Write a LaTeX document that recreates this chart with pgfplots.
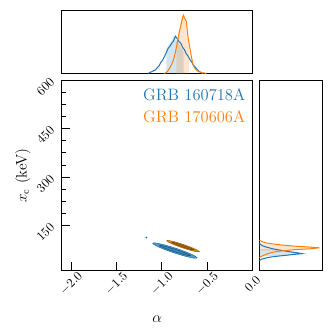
\documentclass[border=0pt]{standalone}
\usepackage{pgfplots}
\pgfplotsset{compat=1.18}
\definecolor{c0}{HTML}{1F77B4}
\definecolor{c1}{HTML}{FF7F0E}
\definecolor{cgold}{RGB}{200,140,25}
\begin{document}
\begin{tikzpicture}
\path[use as bounding box] (-48.8pt,-51.4pt) rectangle (213.5pt,213.2pt);
% main panel: alpha vs x_c
\begin{axis}[
    name=main,
    at={(0,0)}, anchor=south west,
    scale only axis, width=150pt, height=150pt,
    xmin=-2.1, xmax=0, ymin=10, ymax=600,
    xtick={-2,-1.5,-1,-0.5,0},
    xticklabels={$-2.0$,$-1.5$,$-1.0$,$-0.5$,$0.0$},
    ytick={150,300,450,600},
    minor y tick num=3,
    tick pos=left,
    major tick length=6.5pt, minor tick length=3.5pt,
    every tick/.style={black, line width=0.7pt},
    axis line style={black, line width=0.8pt},
    xticklabel style={rotate=45, anchor=center},
    xticklabel shift=10pt,
    yticklabel style={yshift=-5pt, rotate=45, anchor=center},
    yticklabel shift=13pt,
    xlabel={$\alpha$},
    ylabel={$x_{\mathrm{c}}$ (keV)},
    label style={font=\large},
    xlabel style={at={(axis description cs:0.5,-0.253)}, anchor=center},
    ylabel style={at={(axis description cs:-0.206,0.5)}, anchor=center},
]
% GRB 160718A contours
\addplot[draw=c0!90!black, line width=0.4pt, fill=c0!75!white, smooth] coordinates {
(-0.610,50.0) (-0.643,57.0) (-0.733,68.2) (-0.855,80.5) (-0.978,90.7) (-1.067,96.0)
(-1.100,95.0) (-1.067,88.0) (-0.978,76.9) (-0.855,64.5) (-0.733,54.4) (-0.643,49.0) (-0.610,50.0)
} -- cycle;
\addplot[draw=c0!70!black, line width=0.4pt, fill=c0!90!white, smooth] coordinates {
(-0.685,57.0) (-0.708,61.1) (-0.770,68.2) (-0.855,76.5) (-0.940,83.7) (-1.002,87.9)
(-1.025,88.0) (-1.002,83.9) (-0.940,76.8) (-0.855,68.5) (-0.770,61.3) (-0.708,57.1) (-0.685,57.0)
} -- cycle;
\addplot[only marks, mark=*, mark size=0.5pt, c0] coordinates {(-1.17,113)};
% GRB 170606A contours
\addplot[draw=c1!70!black, line width=0.4pt, fill=cgold, smooth] coordinates {
(-0.585,69.0) (-0.609,74.0) (-0.675,82.3) (-0.765,91.5) (-0.855,99.3) (-0.921,103.5)
(-0.945,103.0) (-0.921,98.0) (-0.855,89.7) (-0.765,80.5) (-0.675,72.7) (-0.609,68.5) (-0.585,69.0)
} -- cycle;
\addplot[draw=c1!50!black, line width=0.4pt, fill=cgold!80!black, smooth] coordinates {
(-0.645,74.5) (-0.661,77.4) (-0.705,82.7) (-0.765,88.8) (-0.825,94.2) (-0.869,97.4)
(-0.885,97.5) (-0.869,94.6) (-0.825,89.3) (-0.765,83.2) (-0.705,77.9) (-0.661,74.6) (-0.645,74.5)
} -- cycle;
\node[anchor=north east, inner sep=0pt, text=c0, font=\fontsize{13}{16}\selectfont]
  at (rel axis cs:0.963,0.956) {GRB 160718A};
\node[anchor=north east, inner sep=0pt, text=c1, font=\fontsize{13}{16}\selectfont]
  at (rel axis cs:0.963,0.843) {GRB 170606A};
\end{axis}
% top marginal: alpha
\begin{axis}[
    at={(0,155.3pt)}, anchor=south west,
    scale only axis, width=150pt, height=50pt,
    xmin=-2.1, xmax=0, ymin=0, ymax=1.09,
    ticks=none,
    axis line style={black, line width=0.8pt},
]
\addplot[draw=none, fill=c0, fill opacity=0.2] coordinates {
(-0.95,0) (-0.95,0.43) (-0.93,0.47) (-0.91,0.52) (-0.89,0.56) (-0.87,0.64) (-0.85,0.60)
(-0.83,0.55) (-0.81,0.52) (-0.79,0.45) (-0.77,0.41) (-0.76,0.38) (-0.76,0)} -- cycle;
\addplot[draw=none, fill=c1, fill opacity=0.2] coordinates {
(-0.84,0) (-0.84,0.52) (-0.82,0.68) (-0.80,0.82) (-0.78,0.96) (-0.76,1.00) (-0.74,0.90)
(-0.72,0.62) (-0.70,0.44) (-0.70,0)} -- cycle;
\addplot[c0, line width=0.8pt] coordinates {
(-1.15,0.00) (-1.13,0.02) (-1.11,0.03) (-1.09,0.05) (-1.07,0.06) (-1.05,0.10) (-1.03,0.13)
(-1.01,0.19) (-0.99,0.23) (-0.97,0.29) (-0.95,0.36) (-0.93,0.43) (-0.91,0.47) (-0.89,0.52)
(-0.87,0.56) (-0.85,0.64) (-0.83,0.60) (-0.81,0.55) (-0.79,0.52) (-0.77,0.45) (-0.75,0.41)
(-0.73,0.34) (-0.71,0.30) (-0.69,0.24) (-0.67,0.20) (-0.65,0.14) (-0.63,0.11) (-0.61,0.07)
(-0.59,0.04) (-0.57,0.02) (-0.55,0.00)};
\addplot[c1, line width=0.8pt] coordinates {
(-0.97,0.00) (-0.95,0.02) (-0.93,0.05) (-0.91,0.10) (-0.89,0.16) (-0.87,0.24) (-0.85,0.36)
(-0.83,0.52) (-0.81,0.68) (-0.79,0.82) (-0.77,0.96) (-0.76,1.00) (-0.75,0.96) (-0.73,0.90)
(-0.71,0.62) (-0.69,0.44) (-0.67,0.26) (-0.65,0.13) (-0.63,0.08) (-0.61,0.05) (-0.59,0.03)
(-0.57,0.02) (-0.55,0.01) (-0.53,0.01) (-0.51,0.00)};
\end{axis}
% right marginal: x_c
\begin{axis}[
    at={(155.5pt,0)}, anchor=south west,
    scale only axis, width=50pt, height=150pt,
    xmin=0, xmax=1.06, ymin=10, ymax=600,
    ticks=none,
    axis line style={black, line width=0.8pt},
]
\addplot[draw=none, fill=c0, fill opacity=0.2] coordinates {
(0,55) (0.30,55) (0.40,57) (0.55,60) (0.71,63) (0.62,66) (0.50,69) (0.40,72) (0.31,75) (0.25,77) (0,77)} -- cycle;
\addplot[draw=none, fill=c1, fill opacity=0.2] coordinates {
(0,72) (0.40,72) (0.57,75) (0.85,78) (1.00,81) (0.78,84) (0.52,87) (0.36,90) (0.28,92) (0,92)} -- cycle;
\addplot[c0, line width=0.8pt] coordinates {
(0.00,42) (0.03,45) (0.08,48) (0.14,51) (0.25,54) (0.40,57) (0.55,60) (0.71,63) (0.62,66)
(0.50,69) (0.40,72) (0.31,75) (0.22,78) (0.16,81) (0.10,84) (0.06,87) (0.03,90) (0.01,93) (0.00,96)};
\addplot[c1, line width=0.8pt] coordinates {
(0.00,51) (0.03,54) (0.06,57) (0.10,60) (0.14,63) (0.20,66) (0.27,69) (0.40,72) (0.57,75)
(0.85,78) (1.00,81) (0.78,84) (0.52,87) (0.36,90) (0.22,93) (0.12,96) (0.06,99) (0.02,102) (0.00,105)};
\end{axis}
\end{tikzpicture}
\end{document}
